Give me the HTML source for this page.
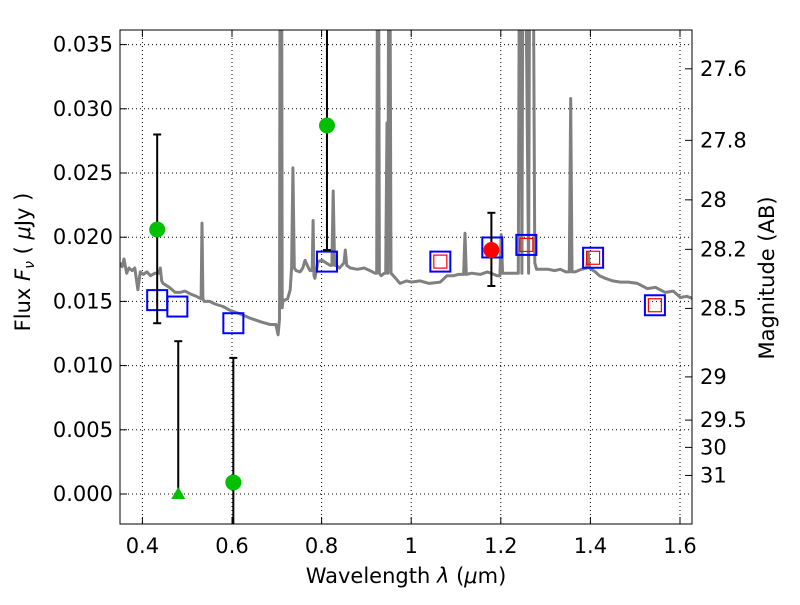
<!DOCTYPE html>
<html><head><meta charset="utf-8"><style>
body{margin:0;background:#fff}
svg text{font-family:"DejaVu Sans","Liberation Sans",sans-serif;}
</style></head><body>
<svg id="c" width="800" height="600" viewBox="0 0 800 600" xmlns="http://www.w3.org/2000/svg"></svg>
<script>
const xTicks=[0.4,0.6,0.8,1,1.2,1.4,1.6];
const yTicks=[0.000,0.005,0.010,0.015,0.020,0.025,0.030,0.035];
const magTicks=[27.6,27.8,28,28.2,28.5,29,29.5,30,31];
const specLam=[0.35,0.355,0.359,0.365,0.370,0.377,0.383,0.390,0.395,0.402,0.410,0.418,0.428,0.437,0.440,0.443,0.446,0.460,0.473,0.484,0.495,0.506,0.520,0.531,0.533,0.535,0.538,0.550,0.562,0.580,0.596,0.620,0.640,0.665,0.685,0.698,0.703,0.706,0.708,0.710,0.712,0.714,0.718,0.724,0.730,0.733,0.736,0.739,0.743,0.752,0.758,0.763,0.768,0.774,0.779,0.781,0.783,0.785,0.792,0.801,0.810,0.819,0.823,0.826,0.829,0.832,0.840,0.850,0.853,0.856,0.864,0.880,0.895,0.908,0.919,0.923,0.926,0.929,0.933,0.940,0.943,0.946,0.948,0.951,0.955,0.960,0.975,0.990,1.000,1.020,1.040,1.065,1.080,1.095,1.105,1.117,1.120,1.123,1.135,1.154,1.170,1.192,1.198,1.201,1.204,1.212,1.225,1.239,1.243,1.247,1.251,1.262,1.266,1.270,1.276,1.280,1.286,1.294,1.306,1.320,1.333,1.345,1.353,1.356,1.359,1.366,1.380,1.392,1.395,1.398,1.411,1.420,1.433,1.450,1.467,1.485,1.505,1.527,1.545,1.567,1.585,1.601,1.615,1.630];
const specFlux=[0.0180,0.0177,0.0183,0.0172,0.0176,0.0174,0.0176,0.0159,0.0173,0.0171,0.0173,0.0170,0.0172,0.0172,0.0176,0.0166,0.0164,0.0161,0.0157,0.0157,0.0158,0.0156,0.0154,0.0152,0.0211,0.0152,0.0150,0.0150,0.0148,0.0146,0.0143,0.0140,0.0137,0.0134,0.0132,0.0132,0.0124,0.0136,0.06,0.06,0.0145,0.0151,0.0151,0.0152,0.0159,0.0176,0.0254,0.0176,0.0174,0.0173,0.0176,0.0182,0.0178,0.0174,0.0174,0.0213,0.0170,0.0168,0.0181,0.0182,0.0180,0.0178,0.0178,0.0236,0.0178,0.0178,0.0176,0.0180,0.0190,0.0178,0.0176,0.0175,0.0176,0.0174,0.0172,0.0172,0.06,0.0172,0.0170,0.0172,0.0172,0.0289,0.0172,0.06,0.0172,0.0170,0.0164,0.0166,0.0165,0.0166,0.0164,0.0165,0.0170,0.0170,0.0171,0.0171,0.0203,0.0171,0.0172,0.0171,0.0173,0.0170,0.0170,0.0202,0.0172,0.0172,0.0172,0.0172,0.06,0.0172,0.06,0.0172,0.06,0.06,0.0180,0.0175,0.0175,0.0175,0.0175,0.0174,0.0175,0.0173,0.0173,0.0308,0.0173,0.0173,0.0175,0.0176,0.0188,0.0176,0.0173,0.0170,0.0168,0.0166,0.0165,0.0165,0.0164,0.0160,0.0161,0.0157,0.0158,0.0153,0.0154,0.0152];
const detLam=[0.433,0.812,0.603];
const detFlux=[0.0206,0.0287,0.0009];
const detLo=[0.0133,0.0190,-0.01];
const detHi=[0.0280,0.05,0.0106];
const limLam=[0.48];
const limHi=[0.0119];
const redLam=[1.179];const redFlux=[0.0190];const redLo=[0.0162];const redHi=[0.0219];
const blueLam=[0.433,0.478,0.603,0.812,1.065,1.181,1.257,1.406,1.544];
const blueFlux=[0.0151,0.0146,0.0133,0.0181,0.0181,0.0192,0.0194,0.0184,0.0147];
const rsqLam=[1.065,1.257,1.406,1.544];
const rsqFlux=[0.0181,0.0194,0.0184,0.0147];

const L=120,R=692,T=30,B=524;
const X=v=>L+(v-0.35)*448;
const Y=v=>494-v*12840;
const NS="http://www.w3.org/2000/svg";
const svg=document.getElementById('c');
function mk(t,a,p){const e=document.createElementNS(NS,t);for(const k in a)e.setAttribute(k,a[k]);(p||svg).appendChild(e);return e;}
const defs=mk('defs',{});const cp=mk('clipPath',{id:'clip'},defs);mk('rect',{x:L,y:T,width:R-L,height:B-T},cp);
const grid=mk('g',{});


xTicks.forEach(v=>{const x=X(v);
 mk('line',{x1:x,y1:T,x2:x,y2:B,stroke:'#000','stroke-dasharray':'1,3','stroke-width':1},grid);
 mk('line',{x1:x,y1:B,x2:x,y2:B-7,stroke:'#000'});mk('line',{x1:x,y1:T,x2:x,y2:T+7,stroke:'#000'});
 const t=mk('text',{x:x,y:B+29,'font-size':21,'text-anchor':'middle'});t.textContent=String(v);
 
 });
yTicks.forEach(v=>{const y=Y(v);
 mk('line',{x1:L,y1:y,x2:R,y2:y,stroke:'#000','stroke-dasharray':'1,3','stroke-width':1},grid);
 mk('line',{x1:L,y1:y,x2:L+7,y2:y,stroke:'#000'});
 const t=mk('text',{x:113,y:y+7,'font-size':21,'text-anchor':'end'});t.textContent=v.toFixed(3);
 
 });
magTicks.forEach(m=>{const y=Y(Math.pow(10,(23.9-m)/2.5));
 mk('line',{x1:R,y1:y,x2:R-7,y2:y,stroke:'#000'});
 const t=mk('text',{x:700,y:y+7,'font-size':21});t.textContent=String(m);
 
 });
const plot=mk('g',{'clip-path':'url(#clip)'});
let d='';specLam.forEach((l,i)=>{d+=(i?'L':'M')+X(l).toFixed(1)+','+Y(specFlux[i]).toFixed(1);});
const sp=mk('path',{d:d,fill:'none',stroke:'#808080','stroke-width':3,'stroke-linejoin':'round'},plot);


function eb(x,lo,hi){mk('line',{x1:X(x),y1:Y(lo),x2:X(x),y2:Y(hi),stroke:'#000','stroke-width':2},plot);
 [lo,hi].forEach(v=>mk('line',{x1:X(x)-4,y1:Y(v),x2:X(x)+4,y2:Y(v),stroke:'#000','stroke-width':2},plot));}
blueLam.forEach((l,i)=>{const r=mk('rect',{x:X(l)-10,y:Y(blueFlux[i])-10,width:20,height:20,fill:'none',stroke:'#0000ff','stroke-width':2},plot);
 
 });
rsqLam.forEach((l,i)=>{const r=mk('rect',{x:X(l)-6.5,y:Y(rsqFlux[i])-6.5,width:13,height:13,fill:'none',stroke:'#ff0000','stroke-width':1.2},plot);
 
 });
detLam.forEach((l,i)=>{eb(l,detLo[i],detHi[i]);const c=mk('circle',{cx:X(l),cy:Y(detFlux[i]),r:8,fill:'#00c000'},plot);
 
 });
limLam.forEach((l,i)=>{eb(l,0,limHi[i]);const x=X(l),y=Y(0);
 const p=mk('polygon',{points:`${x},${y-7} ${x-7},${y+5} ${x+7},${y+5}`,fill:'#00c000'},plot);
 
 });
redLam.forEach((l,i)=>{eb(l,redLo[i],redHi[i]);const c=mk('circle',{cx:X(l),cy:Y(redFlux[i]),r:8,fill:'#ff0000'},plot);
 
 });
const fr=mk('rect',{x:L,y:T,width:R-L,height:B-T,fill:'none',stroke:'#000','stroke-width':1});


</script>
<svg style="position:absolute;left:0;top:0" width="800" height="600">
<text x="406" y="583" font-size="21" text-anchor="middle" font-family="DejaVu Sans,sans-serif">Wavelength  <tspan font-style="italic">λ</tspan> (<tspan font-style="italic">μ</tspan>m)</text>
<text transform="translate(30,262) rotate(-90)" font-size="21" text-anchor="middle" font-family="DejaVu Sans,sans-serif">Flux  <tspan font-style="italic">F</tspan><tspan font-style="italic" font-size="14" dy="4">ν</tspan><tspan dy="-4">  ( </tspan><tspan font-style="italic">μ</tspan>Jy )</text>
<text transform="translate(774,278) rotate(-90)" font-size="21" text-anchor="middle" font-family="DejaVu Sans,sans-serif">Magnitude (AB)</text>
</svg>
</body></html>
